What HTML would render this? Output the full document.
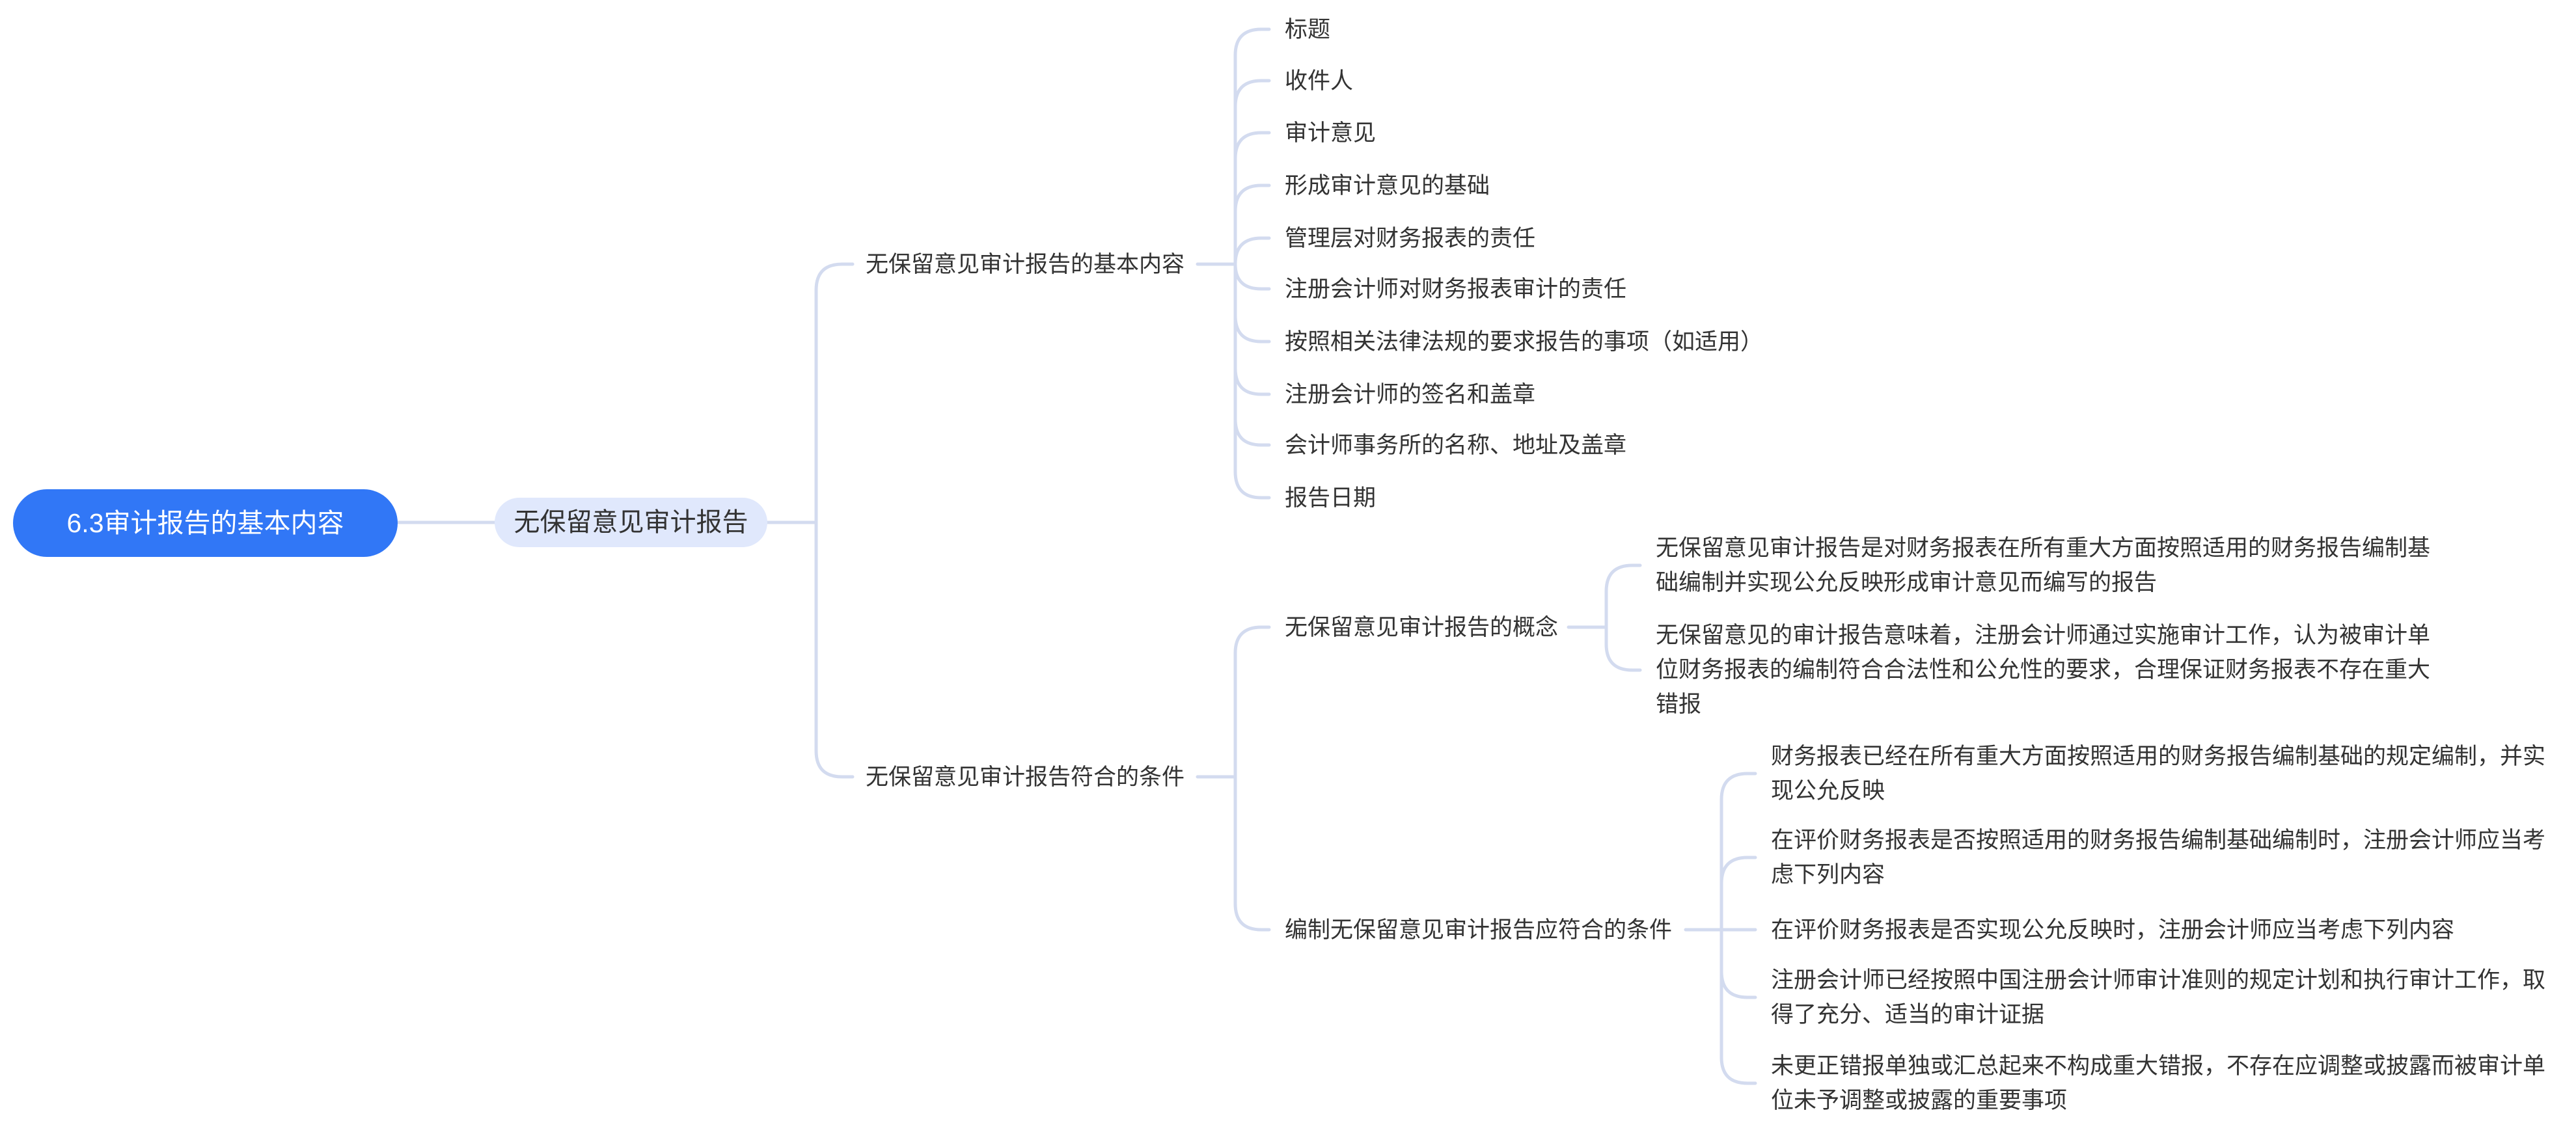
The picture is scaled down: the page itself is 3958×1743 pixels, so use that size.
<!DOCTYPE html>
<html><head><meta charset="utf-8"><style>
html,body{margin:0;padding:0;background:#fff;}
body{width:3958px;height:1743px;position:relative;overflow:hidden;font-family:"Liberation Sans","Noto Sans CJK SC",sans-serif;}
.t{position:absolute;font-size:35px;line-height:53px;color:#333;white-space:nowrap;}
svg{position:absolute;left:0;top:0;}
</style></head><body>
<svg width="3958" height="1743" fill="none" stroke="#d3dbef" stroke-width="5" stroke-linecap="round">
<path d="M611 803 L760 803"/>
<path d="M1179 803 L1254 803"/>
<path d="M1254 803 L1254 446 Q1254 406 1294 406 L1310 406"/>
<path d="M1254 803 L1254 1154 Q1254 1194 1294 1194 L1310 1194"/>
<path d="M1840 406 L1898 406"/>
<path d="M1898 406 L1898 85 Q1898 45 1938 45 L1950 45"/>
<path d="M1898 406 L1898 164 Q1898 124 1938 124 L1950 124"/>
<path d="M1898 406 L1898 244 Q1898 204 1938 204 L1950 204"/>
<path d="M1898 406 L1898 325 Q1898 285 1938 285 L1950 285"/>
<path d="M1898 406 Q1898 366 1938 366 L1950 366"/>
<path d="M1898 406 Q1898 444 1938 444 L1950 444"/>
<path d="M1898 406 L1898 485 Q1898 525 1938 525 L1950 525"/>
<path d="M1898 406 L1898 566 Q1898 606 1938 606 L1950 606"/>
<path d="M1898 406 L1898 644 Q1898 684 1938 684 L1950 684"/>
<path d="M1898 406 L1898 725 Q1898 765 1938 765 L1950 765"/>
<path d="M1840 1194 L1898 1194"/>
<path d="M1898 1194 L1898 1004 Q1898 964 1938 964 L1950 964"/>
<path d="M1898 1194 L1898 1389 Q1898 1429 1938 1429 L1950 1429"/>
<path d="M2410 964 L2468 964"/>
<path d="M2468 964 L2468 909 Q2468 869 2508 869 L2520 869"/>
<path d="M2468 964 L2468 990 Q2468 1030 2508 1030 L2520 1030"/>
<path d="M2590 1429 L2645 1429"/>
<path d="M2645 1429 L2645 1229 Q2645 1189 2685 1189 L2697 1189"/>
<path d="M2645 1429 L2645 1358 Q2645 1318 2685 1318 L2697 1318"/>
<path d="M2645 1429 L2697 1429"/>
<path d="M2645 1429 L2645 1493 Q2645 1533 2685 1533 L2697 1533"/>
<path d="M2645 1429 L2645 1625 Q2645 1665 2685 1665 L2697 1665"/>
</svg>
<div style="position:absolute;left:20px;top:752px;width:591px;height:104px;border-radius:52px;background:#3177f6;color:#fff;font-size:41px;line-height:104px;text-align:center;">6.3审计报告的基本内容</div>
<div style="position:absolute;left:760px;top:765px;width:419px;height:76px;border-radius:38px;background:#e0e8fc;color:#333;font-size:40px;line-height:76px;text-align:center;">无保留意见审计报告</div>
<div class="t" style="left:1330px;top:380px">无保留意见审计报告的基本内容</div>
<div class="t" style="left:1330px;top:1168px">无保留意见审计报告符合的条件</div>
<div class="t" style="left:1974px;top:19px">标题</div>
<div class="t" style="left:1974px;top:98px">收件人</div>
<div class="t" style="left:1974px;top:178px">审计意见</div>
<div class="t" style="left:1974px;top:259px">形成审计意见的基础</div>
<div class="t" style="left:1974px;top:340px">管理层对财务报表的责任</div>
<div class="t" style="left:1974px;top:418px">注册会计师对财务报表审计的责任</div>
<div class="t" style="left:1974px;top:499px">按照相关法律法规的要求报告的事项（如适用）</div>
<div class="t" style="left:1974px;top:580px">注册会计师的签名和盖章</div>
<div class="t" style="left:1974px;top:658px">会计师事务所的名称、地址及盖章</div>
<div class="t" style="left:1974px;top:739px">报告日期</div>
<div class="t" style="left:1974px;top:938px">无保留意见审计报告的概念</div>
<div class="t" style="left:1974px;top:1403px">编制无保留意见审计报告应符合的条件</div>
<div class="t" style="left:2544px;top:816px">无保留意见审计报告是对财务报表在所有重大方面按照适用的财务报告编制基<br>础编制并实现公允反映形成审计意见而编写的报告</div>
<div class="t" style="left:2544px;top:950px">无保留意见的审计报告意味着，注册会计师通过实施审计工作，认为被审计单<br>位财务报表的编制符合合法性和公允性的要求，合理保证财务报表不存在重大<br>错报</div>
<div class="t" style="left:2721px;top:1136px">财务报表已经在所有重大方面按照适用的财务报告编制基础的规定编制，并实<br>现公允反映</div>
<div class="t" style="left:2721px;top:1265px">在评价财务报表是否按照适用的财务报告编制基础编制时，注册会计师应当考<br>虑下列内容</div>
<div class="t" style="left:2721px;top:1403px">在评价财务报表是否实现公允反映时，注册会计师应当考虑下列内容</div>
<div class="t" style="left:2721px;top:1480px">注册会计师已经按照中国注册会计师审计准则的规定计划和执行审计工作，取<br>得了充分、适当的审计证据</div>
<div class="t" style="left:2721px;top:1612px">未更正错报单独或汇总起来不构成重大错报，不存在应调整或披露而被审计单<br>位未予调整或披露的重要事项</div>
</body></html>
